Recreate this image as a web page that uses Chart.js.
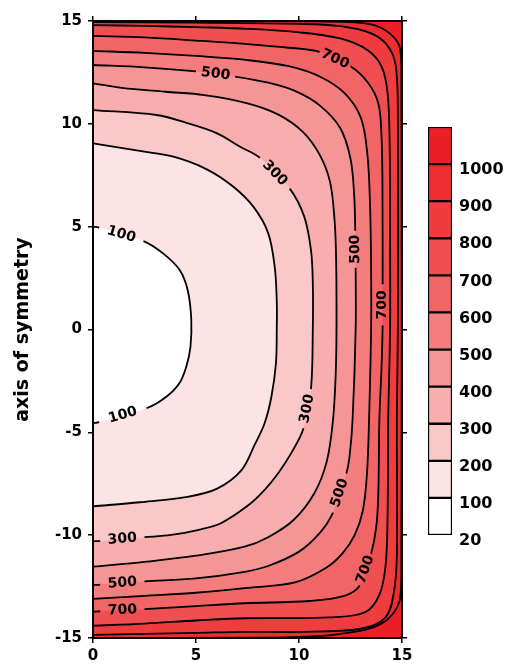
<!DOCTYPE html>
<html>
<head>
<meta charset="utf-8">
<title>Contour plot</title>
<script src="https://cdn.jsdelivr.net/npm/chart.js@4.4.1/dist/chart.umd.min.js"></script>
<style>
  html, body { margin: 0; padding: 0; background: #fff; }
  #stage { position: relative; width: 518px; height: 665px; overflow: hidden; }
  #plot { position: absolute; left: 0; top: 0; }
  #scale { position: absolute; left: 400px; top: 100px; }
</style>
</head>
<body>
<div id="stage">
  <canvas id="plot" width="518" height="665"></canvas>
  <canvas id="scale" width="118" height="460"></canvas>
</div>
<script>
// Contour levels and the colour band that lies just below each level.
const levels = [100, 200, 300, 400, 500, 600, 700, 800, 900, 1000];
const bandLabels = ['20', '100', '200', '300', '400', '500', '600', '700', '800', '900', '1000'];
const bandColors = ['#ffffff', '#fde4e4', '#fac8c9', '#f8aeaf', '#f69596', '#f47d7e',
                    '#f26566', '#f04f51', '#ef3c3f', '#ee2d30', '#ed1f26'];

// Contour paths [x, y], traced from the symmetry axis (x = 0) at the top,
// round the right-hand side, and back to the axis at the bottom.
const contour100 = [[0,5.0],[0.3,4.95],[2.45,4.3],[3.4,3.7],[4.2,2.9],[4.6,1.9],[4.77,0.5],
  [4.73,-0.85],[4.53,-1.8],[4.2,-2.6],[3.56,-3.27],[2.6,-3.83],[0.3,-4.5],[0,-4.55]];
const contour200 = [[0,9.05],[2.27,8.68],[3.9,8.4],[5.5,7.8],[6.8,6.95],[7.8,5.95],[8.5,4.7],
  [8.82,3.05],[8.92,1.4],[8.92,0],[8.88,-1.65],[8.66,-3.27],[8.33,-4.56],[7.85,-5.6],[7.2,-6.85],
  [6.0,-7.75],[4.5,-8.15],[2.27,-8.4],[0,-8.6]];
const contour300 = [[0,10.67],[3.08,10.43],[4.53,10.05],[6.0,9.55],[7.12,8.9],[8.1,8.35],
  [9.55,6.85],[10.25,5.5],[10.58,3.87],[10.67,2.25],[10.67,0],[10.58,-2.9],[10.22,-4.8],
  [9.63,-6.0],[8.98,-7.0],[8.33,-7.8],[7.6,-8.5],[6.21,-9.42],[5.08,-9.75],[3.79,-9.99],
  [2.5,-10.1],[0.35,-10.28],[0,-10.3]];
const contour400 = [[0,11.97],[1.4,11.75],[3.5,11.56],[5.4,11.4],[7.5,11.0],[9.0,10.45],
  [10.2,9.6],[11.0,8.5],[11.5,7.2],[11.72,5.4],[11.8,3.5],[11.82,0],[11.78,-2.2],[11.65,-4.4],
  [11.35,-6.4],[10.75,-7.95],[9.75,-9.25],[8.5,-10.1],[7.36,-10.56],[5.0,-11.0],[2.5,-11.3],
  [0,-11.53]];
const contour500 = [[0,12.86],[2.5,12.75],[5.0,12.55],[6.9,12.3],[8.5,12.0],[9.8,11.6],
  [11.0,10.9],[12.0,9.8],[12.5,8.3],[12.68,6.5],[12.73,4.8],[12.75,3.0],[12.75,0],[12.6,-4.4],
  [12.45,-6.2],[12.3,-7.0],[11.65,-8.9],[11.0,-9.9],[10.0,-10.8],[8.5,-11.5],[7.36,-11.78],
  [5.0,-12.1],[2.5,-12.25],[0.35,-12.4],[0,-12.42]];
const contour600 = [[0,13.55],[2.5,13.45],[5.0,13.3],[7.5,13.1],[9.5,12.8],[11.0,12.3],
  [12.2,11.5],[13.0,10.3],[13.32,8.5],[13.45,6.0],[13.5,3.0],[13.5,0],[13.4,-4.4],
  [13.3,-7.0],[13.1,-8.8],[12.7,-10.0],[12.1,-10.9],[11.3,-11.6],[9.8,-12.3],[7.36,-12.58],
  [5.0,-12.8],[2.5,-12.95],[0,-13.1]];
const contour700 = [[0,14.28],[2.5,14.2],[5.0,14.05],[7.5,13.88],[9.5,13.7],[11.0,13.5],
  [12.5,12.8],[13.35,12.0],[13.85,11.0],[14.0,9.5],[14.05,7.0],[14.06,2.2],[14.06,0.2],
  [14.0,-2.0],[13.9,-4.4],[13.85,-8.0],[13.75,-9.6],[13.5,-10.9],[12.95,-12.45],[12.2,-12.95],
  [10.5,-13.2],[7.36,-13.31],[5.0,-13.45],[2.5,-13.6],[0.35,-13.7],[0,-13.72]];
const contour800 = [[0,14.8],[2.5,14.76],[5.0,14.7],[7.5,14.62],[10.0,14.45],[12.0,14.15],
  [13.3,13.6],[14.0,12.8],[14.3,11.5],[14.4,9.0],[14.42,5.0],[14.42,0],[14.33,-4.4],[14.3,-9.0],
  [14.2,-11.5],[13.9,-12.9],[13.2,-13.75],[11.5,-14.0],[7.36,-14.04],[5.0,-14.15],[2.5,-14.3],
  [0,-14.4]];
const contour900 = [[0,14.95],[5.0,14.92],[10.0,14.86],[12.0,14.75],[13.5,14.4],[14.3,13.8],
  [14.7,12.8],[14.8,10.0],[14.8,0],[14.75,-4.4],[14.75,-11.0],[14.6,-12.8],[14.2,-14.0],
  [13.0,-14.55],[10.0,-14.7],[7.36,-14.7],[5.0,-14.75],[0,-14.85]];
const contour1000 = [[0,15],[8.0,15],[11.0,14.98],[13.5,14.84],[14.4,14.4],[14.9,13.7],
  [14.97,12.0],[14.97,-11.0],[14.9,-13.15],[14.0,-14.3],[12.0,-14.8],[10.3,-14.93],[8.0,-14.98],
  [0,-15]];
const contours = [contour100, contour200, contour300, contour400, contour500,
                  contour600, contour700, contour800, contour900, contour1000];

// Segments of a contour that are left open for its inline value label.
const labelGaps = { 100: [1, 11], 300: [5, 11, 20], 500: [2, 10, 15, 22], 700: [5, 11, 17, 23] };

const FONT = 'DejaVu Sans';
const tickFont = { family: FONT, weight: 'bold', size: 15 };
const keyFont = { family: FONT, weight: 'bold', size: 16 };
const INK = '#000';

const toPoints = arr => arr.map(([x, y]) => ({ x, y }));

// Filled regions: each contour encloses everything below its level.
const fillSets = levels.map((lv, k) => ({
  data: toPoints(contours[k]),
  showLine: true,
  fill: 'shape',
  backgroundColor: bandColors[k],
  borderColor: 'rgba(0,0,0,0)',
  borderWidth: 0,
  pointRadius: 0,
  pointHoverRadius: 0,
  tension: 0.35,
  order: 10 + k
}));

// Contour lines drawn over all the fills.
const lineSets = levels.map((lv, k) => {
  const gaps = labelGaps[lv] || [];
  return {
    level: lv,
    gaps: gaps,
    data: toPoints(contours[k]),
    showLine: true,
    fill: false,
    borderColor: INK,
    borderWidth: 1.8,
    pointRadius: 0,
    pointHoverRadius: 0,
    tension: 0.35,
    order: 0,
    segment: {
      borderColor: c => gaps.includes(c.p0DataIndex) ? 'rgba(0,0,0,0)' : INK
    }
  };
});

const plotBackground = {
  id: 'plotBackground',
  beforeDatasetsDraw(chart) {
    const { ctx, chartArea: a } = chart;
    ctx.save();
    ctx.fillStyle = bandColors[10];
    ctx.fillRect(a.left, a.top, a.right - a.left, a.bottom - a.top);
    ctx.restore();
  }
};

// Value labels written into the open segments of the contour lines;
// near-vertical labels read upwards.
const contourLabels = {
  id: 'contourLabels',
  afterDatasetsDraw(chart) {
    const ctx = chart.ctx;
    ctx.save();
    ctx.font = 'bold 14px "' + FONT + '"';
    ctx.fillStyle = INK;
    ctx.textAlign = 'center';
    ctx.textBaseline = 'middle';
    chart.data.datasets.forEach((ds, i) => {
      if (!ds.gaps || !ds.gaps.length) return;
      const pts = chart.getDatasetMeta(i).data;
      ds.gaps.forEach(g => {
        const a = pts[g], b = pts[g + 1];
        let ang = Math.atan2(b.y - a.y, b.x - a.x);
        if (ang > Math.PI / 2 - 0.1) ang -= Math.PI;
        else if (ang < -Math.PI / 2) ang += Math.PI;
        ctx.save();
        ctx.translate((a.x + b.x) / 2, (a.y + b.y) / 2);
        ctx.rotate(ang);
        ctx.fillText(String(ds.level), 0, 0);
        ctx.restore();
      });
    });
    ctx.restore();
  }
};

const tickGrid = { drawOnChartArea: false, drawTicks: true, tickLength: 5, color: INK, lineWidth: 1.5 };
const frame = { display: true, color: INK, width: 2, z: 1 };

new Chart(document.getElementById('plot'), {
  type: 'scatter',
  data: { datasets: [...lineSets, ...fillSets] },
  options: {
    responsive: false,
    animation: false,
    devicePixelRatio: 1,
    events: [],
    layout: { padding: 0 },
    plugins: { legend: { display: false }, tooltip: { enabled: false } },
    scales: {
      x: {
        type: 'linear', position: 'bottom', min: 0, max: 15,
        ticks: { stepSize: 5, font: tickFont, color: INK, padding: 4, maxRotation: 0 },
        grid: tickGrid, border: frame,
        afterFit: s => { s.height = 27; }
      },
      x2: {
        type: 'linear', position: 'top', min: 0, max: 15,
        ticks: { stepSize: 5, display: false },
        grid: tickGrid, border: frame,
        afterFit: s => { s.height = 21; }
      },
      y: {
        type: 'linear', position: 'left', min: -15, max: 15,
        ticks: { stepSize: 5, font: tickFont, color: INK, padding: 6 },
        grid: tickGrid, border: frame,
        title: { display: true, text: 'axis of symmetry', color: INK,
                 font: { family: FONT, weight: 'bold', size: 19 }, padding: { top: 12, bottom: 0 } },
        afterFit: s => { s.width = 93; }
      },
      y2: {
        type: 'linear', position: 'right', min: -15, max: 15,
        ticks: { stepSize: 5, display: false },
        grid: tickGrid, border: frame,
        afterFit: s => { s.width = 116; }
      }
    }
  },
  plugins: [plotBackground, contourLabels]
});

// Colour key: one stacked block per band, labelled at the band boundaries.
new Chart(document.getElementById('scale'), {
  type: 'bar',
  data: {
    labels: [''],
    datasets: bandColors.map(c => ({
      data: [1],
      backgroundColor: c,
      borderColor: INK,
      borderWidth: 1.5,
      borderSkipped: false,
      barPercentage: 1,
      categoryPercentage: 1
    }))
  },
  options: {
    responsive: false,
    animation: false,
    devicePixelRatio: 1,
    events: [],
    layout: { padding: { left: 28, top: 27, bottom: 25, right: 0 } },
    plugins: { legend: { display: false }, tooltip: { enabled: false } },
    scales: {
      x: { display: false, stacked: true },
      y: {
        stacked: true, position: 'right', min: 0, max: 11,
        grid: { display: false, drawTicks: false },
        border: { display: false },
        ticks: {
          stepSize: 1, padding: 7, labelOffset: 6, color: INK, font: keyFont,
          callback: v => bandLabels[v] !== undefined ? bandLabels[v] : ''
        },
        afterFit: s => { s.width = 66; }
      }
    }
  }
});
</script>
</body>
</html>
